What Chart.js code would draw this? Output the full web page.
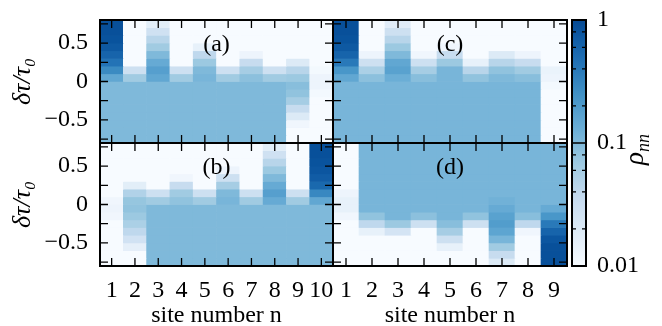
<!DOCTYPE html>
<html>
<head>
<meta charset="utf-8">
<script src="https://cdn.jsdelivr.net/npm/chart.js@4.4.0/dist/chart.umd.min.js"></script>
<style>
body { margin: 0; background: #fff; }
#wrap { position: relative; width: 662px; height: 326px; }
canvas { position: absolute; left: 0; top: 0; }
</style>
</head>
<body>
<div id="wrap">
  <canvas id="pa" width="662" height="326"></canvas>
  <canvas id="pb" width="662" height="326"></canvas>
  <canvas id="pc" width="662" height="326"></canvas>
  <canvas id="pd" width="662" height="326"></canvas>
  <canvas id="cb" width="662" height="326"></canvas>
</div>
<script>
// site numbers on the x axis
const sitesLeft = ['1', '2', '3', '4', '5', '6', '7', '8', '9', '10'];
const sitesRight = ['1', '2', '3', '4', '5', '6', '7', '8', '9'];
// row edges in delta tau / tau0, top to bottom
const dtEdges = [0.8, 0.7, 0.6, 0.5, 0.4, 0.3, 0.2, 0.1, 0, -0.1, -0.2, -0.3, -0.4, -0.5, -0.6, -0.7, -0.8];
const dtTicks = [0.5, 0, -0.5];
const dtMarks = [0.75, 0.5, 0.25, 0, -0.25, -0.5, -0.75];
const rhoTicks = [1, 0.1, 0.01];
const rhoMinor = [0.8, 0.6, 0.4, 0.2, 0.08, 0.06, 0.04, 0.02];

// rho_nn, one array per site, rows from dt = 0.8 (top) down to -0.8
const rhoA = [
  [0.9, 0.9, 0.85, 0.75, 0.6, 0.45, 0.28, 0.15, 0.1, 0.1, 0.1, 0.1, 0.1, 0.1, 0.1, 0.1],
  [0.01, 0.01, 0.01, 0.01, 0.01, 0.01, 0.03, 0.065, 0.1, 0.1, 0.1, 0.1, 0.1, 0.1, 0.1, 0.1],
  [0.017, 0.028, 0.045, 0.065, 0.1, 0.14, 0.18, 0.15, 0.1, 0.1, 0.1, 0.1, 0.1, 0.1, 0.1, 0.1],
  [0.01, 0.01, 0.01, 0.01, 0.01, 0.01, 0.03, 0.065, 0.1, 0.1, 0.1, 0.1, 0.1, 0.1, 0.1, 0.1],
  [0.01, 0.01, 0.01, 0.015, 0.04, 0.07, 0.1, 0.11, 0.1, 0.1, 0.1, 0.1, 0.1, 0.1, 0.1, 0.1],
  [0.01, 0.01, 0.01, 0.01, 0.01, 0.01, 0.03, 0.065, 0.1, 0.1, 0.1, 0.1, 0.1, 0.1, 0.1, 0.1],
  [0.01, 0.01, 0.01, 0.01, 0.013, 0.035, 0.06, 0.085, 0.1, 0.1, 0.1, 0.1, 0.1, 0.1, 0.1, 0.1],
  [0.01, 0.01, 0.01, 0.01, 0.01, 0.01, 0.03, 0.065, 0.1, 0.1, 0.1, 0.1, 0.1, 0.1, 0.1, 0.1],
  [0.01, 0.01, 0.01, 0.01, 0.01, 0.02, 0.045, 0.07, 0.09, 0.08, 0.06, 0.035, 0.02, 0.012, 0.01, 0.01],
  [0.01, 0.01, 0.01, 0.01, 0.01, 0.01, 0.011, 0.013, 0.013, 0.011, 0.01, 0.01, 0.01, 0.01, 0.01, 0.01]
];
const rhoB = [
  [0.01, 0.01, 0.01, 0.01, 0.01, 0.01, 0.01, 0.012, 0.013, 0.012, 0.01, 0.01, 0.01, 0.01, 0.01, 0.01],
  [0.01, 0.01, 0.01, 0.01, 0.01, 0.017, 0.05, 0.075, 0.08, 0.07, 0.055, 0.04, 0.027, 0.016, 0.01, 0.01],
  [0.01, 0.01, 0.01, 0.01, 0.01, 0.01, 0.03, 0.065, 0.1, 0.1, 0.1, 0.1, 0.1, 0.1, 0.1, 0.1],
  [0.01, 0.01, 0.01, 0.01, 0.012, 0.035, 0.065, 0.08, 0.1, 0.1, 0.1, 0.1, 0.1, 0.1, 0.1, 0.1],
  [0.01, 0.01, 0.01, 0.01, 0.01, 0.01, 0.03, 0.065, 0.1, 0.1, 0.1, 0.1, 0.1, 0.1, 0.1, 0.1],
  [0.01, 0.01, 0.01, 0.013, 0.03, 0.06, 0.1, 0.11, 0.1, 0.1, 0.1, 0.1, 0.1, 0.1, 0.1, 0.1],
  [0.01, 0.01, 0.01, 0.01, 0.01, 0.01, 0.03, 0.065, 0.1, 0.1, 0.1, 0.1, 0.1, 0.1, 0.1, 0.1],
  [0.017, 0.028, 0.045, 0.07, 0.1, 0.14, 0.18, 0.14, 0.1, 0.1, 0.1, 0.1, 0.1, 0.1, 0.1, 0.1],
  [0.01, 0.01, 0.01, 0.01, 0.01, 0.01, 0.03, 0.065, 0.1, 0.1, 0.1, 0.1, 0.1, 0.1, 0.1, 0.1],
  [0.9, 0.9, 0.85, 0.8, 0.7, 0.55, 0.3, 0.15, 0.1, 0.1, 0.1, 0.1, 0.1, 0.1, 0.1, 0.1]
];
const rhoC = [
  [0.9, 0.9, 0.85, 0.75, 0.6, 0.4, 0.22, 0.15, 0.11, 0.11, 0.11, 0.11, 0.11, 0.11, 0.11, 0.11],
  [0.01, 0.01, 0.01, 0.01, 0.013, 0.03, 0.055, 0.085, 0.11, 0.11, 0.11, 0.11, 0.11, 0.11, 0.11, 0.11],
  [0.018, 0.03, 0.045, 0.07, 0.1, 0.15, 0.17, 0.13, 0.11, 0.11, 0.11, 0.11, 0.11, 0.11, 0.11, 0.11],
  [0.01, 0.01, 0.01, 0.01, 0.012, 0.03, 0.06, 0.09, 0.11, 0.11, 0.11, 0.11, 0.11, 0.11, 0.11, 0.11],
  [0.01, 0.01, 0.01, 0.012, 0.035, 0.07, 0.11, 0.11, 0.11, 0.11, 0.11, 0.11, 0.11, 0.11, 0.11, 0.11],
  [0.01, 0.01, 0.01, 0.01, 0.01, 0.015, 0.045, 0.08, 0.11, 0.11, 0.11, 0.11, 0.11, 0.11, 0.11, 0.11],
  [0.01, 0.01, 0.01, 0.01, 0.02, 0.045, 0.08, 0.1, 0.11, 0.11, 0.11, 0.11, 0.11, 0.11, 0.11, 0.11],
  [0.01, 0.01, 0.01, 0.01, 0.013, 0.035, 0.065, 0.09, 0.11, 0.11, 0.11, 0.11, 0.11, 0.11, 0.11, 0.11],
  [0.01, 0.01, 0.01, 0.01, 0.01, 0.01, 0.014, 0.013, 0.011, 0.01, 0.01, 0.01, 0.01, 0.01, 0.01, 0.01]
];
const rhoD = [
  [0.01, 0.01, 0.01, 0.01, 0.01, 0.01, 0.013, 0.015, 0.015, 0.012, 0.01, 0.01, 0.01, 0.01, 0.01, 0.01],
  [0.11, 0.11, 0.11, 0.11, 0.11, 0.11, 0.11, 0.11, 0.11, 0.08, 0.04, 0.015, 0.01, 0.01, 0.01, 0.01],
  [0.11, 0.11, 0.11, 0.11, 0.11, 0.11, 0.11, 0.11, 0.11, 0.11, 0.07, 0.025, 0.01, 0.01, 0.01, 0.01],
  [0.11, 0.11, 0.11, 0.11, 0.11, 0.11, 0.11, 0.11, 0.11, 0.085, 0.03, 0.01, 0.01, 0.01, 0.01, 0.01],
  [0.11, 0.11, 0.11, 0.11, 0.11, 0.11, 0.11, 0.11, 0.11, 0.11, 0.09, 0.06, 0.03, 0.015, 0.01, 0.01],
  [0.11, 0.11, 0.11, 0.11, 0.11, 0.11, 0.11, 0.11, 0.11, 0.08, 0.03, 0.01, 0.01, 0.01, 0.01, 0.01],
  [0.11, 0.11, 0.11, 0.11, 0.11, 0.11, 0.11, 0.12, 0.14, 0.17, 0.19, 0.16, 0.11, 0.065, 0.035, 0.02],
  [0.11, 0.11, 0.11, 0.11, 0.11, 0.11, 0.11, 0.11, 0.11, 0.09, 0.04, 0.012, 0.01, 0.01, 0.01, 0.01],
  [0.11, 0.11, 0.11, 0.11, 0.11, 0.11, 0.11, 0.11, 0.14, 0.22, 0.4, 0.6, 0.8, 0.9, 0.9, 0.9]
];

// matplotlib Blues, only the lower 90% of it is used
const blues = ['#f7fbff', '#deebf7', '#c6dbef', '#9ecae1', '#6baed6', '#4292c6', '#2171b5', '#08519c', '#08306b'];

function cmap(t) {
  t = Math.min(1, Math.max(0, t)) * 0.9 * (blues.length - 1);
  const i = Math.min(Math.floor(t), blues.length - 2);
  const f = t - i;
  const a = blues[i], b = blues[i + 1];
  const c = [1, 3, 5].map(k => {
    const va = parseInt(a.substr(k, 2), 16), vb = parseInt(b.substr(k, 2), 16);
    return Math.round(va + (vb - va) * f);
  });
  return 'rgb(' + c.join(',') + ')';
}

function rhoColor(r) {
  return cmap((Math.log10(r) + 2) / 2);
}

Chart.defaults.font.family = "'Liberation Serif', 'DejaVu Serif', serif";
Chart.defaults.font.size = 24;
Chart.defaults.color = '#000';

// label overflow must not move the plot box
function noOverflow(s) {
  s.paddingTop = 0;
  s.paddingBottom = 0;
  s.paddingLeft = 0;
  s.paddingRight = 0;
}

// box + inward ticks on all four sides, and the panel tag
const framePlugin = {
  id: 'frame',
  afterDatasetsDraw(chart, args, opts) {
    const ctx = chart.ctx;
    const a = chart.chartArea;
    const x = chart.scales.x, y = chart.scales.y;
    ctx.save();
    ctx.strokeStyle = '#000';
    ctx.lineWidth = 1.3;
    ctx.beginPath();
    chart.data.labels.forEach((l, i) => {
      const px = x.getPixelForValue(i);
      ctx.moveTo(px, a.bottom); ctx.lineTo(px, a.bottom - 8);
      ctx.moveTo(px, a.top); ctx.lineTo(px, a.top + 8);
    });
    dtMarks.forEach(v => {
      const py = y.getPixelForValue(v);
      ctx.moveTo(a.left, py); ctx.lineTo(a.left + 8, py);
      ctx.moveTo(a.right, py); ctx.lineTo(a.right - 8, py);
    });
    ctx.stroke();
    ctx.lineWidth = 2;
    ctx.strokeRect(a.left, a.top, a.width, a.height);
    ctx.fillStyle = '#000';
    ctx.font = "24px 'Liberation Serif', serif";
    ctx.textAlign = 'center';
    ctx.textBaseline = 'middle';
    ctx.fillText(opts.tag, (a.left + a.right) / 2, a.top + 25);
    ctx.restore();
  }
};

function makePanel(id, sites, rho, tag, pad, showY, showX) {
  const datasets = [];
  for (let r = 0; r < dtEdges.length - 1; r++) {
    datasets.push({
      label: 'row ' + r,
      data: sites.map(() => [dtEdges[r + 1], dtEdges[r]]),
      backgroundColor: rho.map(col => rhoColor(col[r]))
    });
  }
  const xAxis = {
    display: showX,
    grid: { display: false, drawTicks: false },
    border: { display: false },
    ticks: { padding: 10, maxRotation: 0, autoSkip: false },
    title: { display: true, text: 'site number n', padding: { top: 0, bottom: -4 } }
  };
  if (showX) xAxis.afterFit = s => { s.height = 60; noOverflow(s); };
  const yAxis = {
    display: showY,
    min: -0.8,
    max: 0.8,
    grid: { display: false, drawTicks: false },
    border: { display: false },
    afterBuildTicks: s => { s.ticks = dtTicks.map(v => ({ value: v })); },
    ticks: { padding: 12, callback: v => v < 0 ? '\u2212' + Math.abs(v) : String(v) },
    title: { display: true, text: 'δτ/τ₀', font: { size: 26, style: 'italic' }, padding: { top: 8, bottom: 0 } }
  };
  if (showY) yAxis.afterFit = s => { s.width = 100; noOverflow(s); };
  return new Chart(document.getElementById(id), {
    type: 'bar',
    data: { labels: sites, datasets: datasets },
    options: {
      responsive: false,
      animation: false,
      devicePixelRatio: 1,
      layout: { padding: pad },
      plugins: { legend: { display: false }, tooltip: { enabled: false }, frame: { tag: tag } },
      datasets: { bar: { grouped: false, barPercentage: 1, categoryPercentage: 1, borderWidth: 0 } },
      scales: { x: xAxis, y: yAxis }
    },
    plugins: [framePlugin]
  });
}

makePanel('pa', sitesLeft, rhoA, '(a)', { left: 0, right: 329, top: 20, bottom: 183 }, true, false);
makePanel('pb', sitesLeft, rhoB, '(b)', { left: 0, right: 329, top: 143, bottom: 0 }, true, true);
makePanel('pc', sitesRight, rhoC, '(c)', { left: 333, right: 95, top: 20, bottom: 183 }, false, false);
makePanel('pd', sitesRight, rhoD, '(d)', { left: 333, right: 95, top: 143, bottom: 0 }, false, true);

// colour bar
const cbarPlugin = {
  id: 'cbar',
  beforeDatasetsDraw(chart) {
    const ctx = chart.ctx;
    const a = chart.chartArea;
    const y = chart.scales.y;
    ctx.save();
    const g = ctx.createLinearGradient(0, a.bottom, 0, a.top);
    for (let k = 0; k <= 20; k++) g.addColorStop(k / 20, cmap(k / 20));
    ctx.fillStyle = g;
    ctx.fillRect(a.left, a.top, a.width, a.height);
    ctx.strokeStyle = '#000';
    ctx.lineWidth = 1.3;
    ctx.beginPath();
    rhoMinor.forEach(v => {
      const py = y.getPixelForValue(v);
      ctx.moveTo(a.left, py); ctx.lineTo(a.left + 4, py);
      ctx.moveTo(a.right, py); ctx.lineTo(a.right - 4, py);
    });
    rhoTicks.forEach(v => {
      const py = y.getPixelForValue(v);
      ctx.moveTo(a.left, py); ctx.lineTo(a.left + 7, py);
      ctx.moveTo(a.right, py); ctx.lineTo(a.right - 7, py);
    });
    ctx.stroke();
    ctx.lineWidth = 2;
    ctx.strokeRect(a.left, a.top, a.width, a.height);
    // axis label rho_nn, reading upwards
    ctx.translate(643, 165);
    ctx.rotate(-Math.PI / 2);
    ctx.fillStyle = '#000';
    ctx.textBaseline = 'alphabetic';
    ctx.font = "italic 27px 'Liberation Serif', serif";
    ctx.fillText('ρ', 0, 0);
    const w = ctx.measureText('ρ').width;
    ctx.font = "italic 18px 'Liberation Serif', serif";
    ctx.fillText('nn', w, 6);
    ctx.restore();
  }
};

new Chart(document.getElementById('cb'), {
  type: 'bar',
  data: { labels: [], datasets: [] },
  options: {
    responsive: false,
    animation: false,
    devicePixelRatio: 1,
    layout: { padding: { left: 572, right: 16, top: 20, bottom: 60 } },
    plugins: { legend: { display: false }, tooltip: { enabled: false } },
    scales: {
      x: { display: false },
      y: {
        type: 'logarithmic',
        position: 'right',
        min: 0.01,
        max: 1,
        grid: { display: false, drawTicks: false },
        border: { display: false },
        afterBuildTicks: s => { s.ticks = rhoTicks.map(v => ({ value: v })); },
        ticks: { padding: 11, callback: v => String(v) },
        afterFit: s => { s.width = 60; noOverflow(s); }
      }
    }
  },
  plugins: [cbarPlugin]
});
</script>
</body>
</html>
